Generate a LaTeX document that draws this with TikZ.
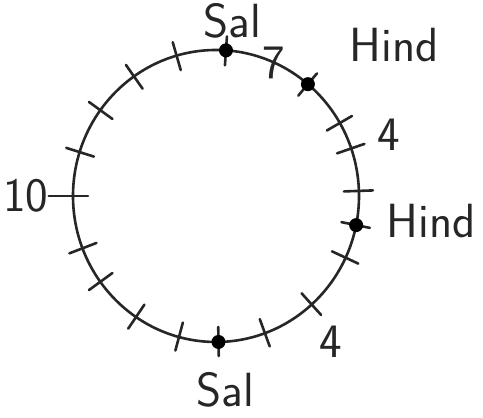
\documentclass[tikz,border=0pt]{standalone}
\usetikzlibrary{calc, positioning}

\begin{document}
\begin{tikzpicture}[
  x=1pt, y=1pt,
  ring/.style={draw=black!85, line width=2.6pt},
  notch/.style={draw=black!85, line width=2.6pt, line cap=round},
  spot/.style={fill=black, circle, inner sep=0pt, minimum size=14pt},
  label/.style={font=\fontsize{48}{52}\selectfont\sffamily, text=black!85, inner sep=0pt}
]
\useasboundingbox (0,0) rectangle (483,418);

% ---- la pista circolare
\coordinate (c) at (216,222);
\draw[ring] (c) ellipse [x radius=143, y radius=146];

% ---- tacche lungo la pista
\foreach \a in {86, 50, 30, 19, 2, -11.5, -25, -48, -70, -89,
                -105, -124, -144, -159, 162.5, 144, 125, 106} {
  \draw[notch] ($(c)+(\a:128 and 131)$) -- ($(c)+(\a:157 and 160)$);
}

% ---- punti dei corridori
\foreach \a/\n in {86/s1, 50/h1, -11.5/h2, -89/s2} {
  \node[spot] (\n) at ($(c)+(\a:143 and 146)$) {};
}

% ---- etichette
\node[label] (saltop) at (232,397) {Sal};
\node[label] (sette)  at (274,355) {7};
\node[label] (hindup) at (394,373) {Hind};
\node[label] (quattroup) at (389,283) {4};
\node[label] (hindrt) at (431,197) {Hind};
\node[label] (quattrodn) at (331,76) {4};
\node[label] (salbot) at (225,28) {Sal};
\node[label] (dieci)  at (26,222) {10};

\draw[notch] (dieci.east) -- ($(c)+(180:128 and 131)$);

\end{tikzpicture}
\end{document}
